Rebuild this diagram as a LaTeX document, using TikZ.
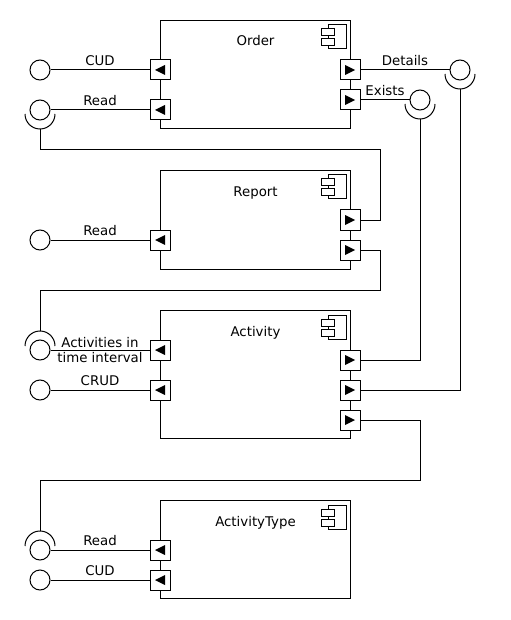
\documentclass[tikz,border=0pt]{standalone}
\usepackage{fontspec}
\setmainfont{DejaVu Sans}
\usetikzlibrary{calc}

% component symbol in the top right corner of a box
\newcommand{\compicon}[1]{%
  \draw ($(#1.north east)+(-23,5)$) rectangle ++(18,24);
  \draw[fill=white] ($(#1.north east)+(-30,9)$) rectangle ++(13,7);
  \draw[fill=white] ($(#1.north east)+(-30,19)$) rectangle ++(13,7);
}
% sockets round a lollipop, #2 is where the wire comes in
\newcommand{\socketbelow}[2]{%
  \draw ($(#1.center)+(-15,4)$) arc[start angle=180, end angle=0, radius=15];
  \coordinate (#2) at ($(#1.center)+(0,19)$);
}
\newcommand{\socketabove}[2]{%
  \draw ($(#1.center)+(-15,-4)$) arc[start angle=180, end angle=360, radius=15];
  \coordinate (#2) at ($(#1.center)+(0,-19)$);
}

\begin{document}
\begin{tikzpicture}[
  x=0.75pt, y=-0.75pt,
  font=\fontsize{10}{11.25}\selectfont,
  line width=0.75pt,
  comp/.style={draw, anchor=north west, minimum width=142.5pt, inner sep=0pt,
               label={[anchor=base, yshift=-19.5pt]north:#1}},
  port/.style={draw, fill=white, minimum size=15pt, inner sep=0pt},
  portin/.style={port, path picture={\fill[black] ($(path picture bounding box.center)+(-5,0)$) -- ++(10,-5) -- ++(0,10) -- cycle;}},
  portout/.style={port, path picture={\fill[black] ($(path picture bounding box.center)+(5,0)$) -- ++(-10,-5) -- ++(0,10) -- cycle;}},
  lolli/.style={draw, circle, minimum size=15pt, inner sep=0pt},
  lbl/.style={above, inner sep=3pt},
]
\useasboundingbox (0,0) rectangle (510,620);

% --- Order ---
\node[comp=Order, minimum height=81pt] (order) at (160,20) {};
\compicon{order}
\node[portin] (ordCUD) at (160,70) {};
\node[portin] (ordRead) at (160,110) {};
\node[portout] (ordDet) at (350,70) {};
\node[portout] (ordExi) at (350,100) {};
\node[lolli] (ordCUDi) at (40,70) {};
\node[lolli] (ordReadi) at (40,110) {};
\node[lolli] (ordDeti) at (460,70) {};
\node[lolli] (ordExii) at (420,100) {};
\draw (ordCUDi) -- node[lbl] {CUD} (ordCUD);
\draw (ordReadi) -- node[lbl] {Read} (ordRead);
\draw (ordDet) -- node[lbl] {Details} (ordDeti);
\draw (ordExi) -- node[lbl] {Exists} (ordExii);
\socketbelow{ordReadi}{ordReadS}
\socketbelow{ordExii}{ordExiS}
\socketbelow{ordDeti}{ordDetS}

% --- Report ---
\node[comp=Report, minimum height=74.25pt] (report) at (160,170) {};
\compicon{report}
\node[portin] (repRead) at (160,240) {};
\node[portout] (repOrd) at (350,220) {};
\node[portout] (repAct) at (350,250) {};
\node[lolli] (repReadi) at (40,240) {};
\draw (repReadi) -- node[lbl] {Read} (repRead);

% --- Activity ---
\node[comp=Activity, minimum height=96pt] (activity) at (160,310) {};
\compicon{activity}
\node[portin] (actTime) at (160,350) {};
\node[portin] (actCRUD) at (160,390) {};
\node[portout] (actExi) at (350,360) {};
\node[portout] (actDet) at (350,390) {};
\node[portout] (actType) at (350,420) {};
\node[lolli] (actTimei) at (40,350) {};
\node[lolli] (actCRUDi) at (40,390) {};
\draw (actTimei) -- node[align=center, inner sep=0pt] {Activities in\\time interval} (actTime);
\draw (actCRUDi) -- node[lbl] {CRUD} (actCRUD);
\socketabove{actTimei}{actTimeS}

% --- ActivityType ---
\node[comp=ActivityType, minimum height=73.5pt] (acttype) at (160,500) {};
\compicon{acttype}
\node[portin] (typRead) at (160,550) {};
\node[portin] (typCUD) at (160,580) {};
\node[lolli] (typReadi) at (40,550) {};
\node[lolli] (typCUDi) at (40,580) {};
\draw (typReadi) -- node[lbl] {Read} (typRead);
\draw (typCUDi) -- node[lbl] {CUD} (typCUD);
\socketabove{typReadi}{typReadS}

% Wiring between components
\draw (repOrd) -| (380,150) -| (ordReadS);
\draw (repAct) -| (380,290) -| (actTimeS);
\draw (actExi) -| (ordExiS);
\draw (actDet) -| (ordDetS);
\draw (actType) -| (420,480) -| (typReadS);
\end{tikzpicture}
\end{document}
